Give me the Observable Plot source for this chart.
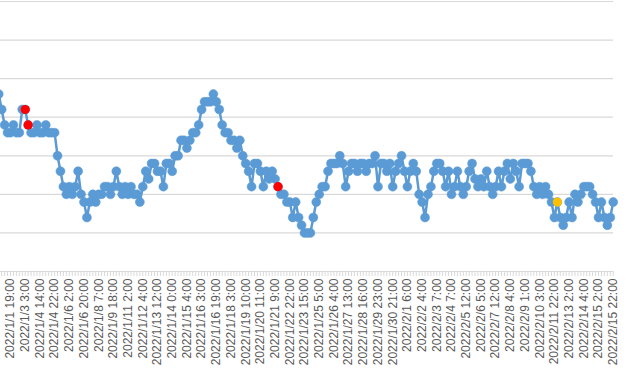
<!DOCTYPE html>
<html><head><meta charset="utf-8">
<script src="https://cdn.jsdelivr.net/npm/d3@7"></script>
<script src="https://cdn.jsdelivr.net/npm/@observablehq/plot@0.6"></script>
<style>body{margin:0;background:#fff}</style>
</head><body><div id="chart"></div>
<script>
const values = [
  4.6, 4.2, 3.8, 3.6, 3.6, 3.8, 3.6, 3.6, 4.2, 4.2,
  3.8, 3.6, 3.6, 3.8, 3.6, 3.6, 3.8, 3.6, 3.6, 3.6,
  3.0, 2.6, 2.2, 2.0, 2.2, 2.0, 2.2, 2.6, 2.0, 1.8,
  1.4, 1.8, 2.0, 1.8, 2.0, 2.0, 2.2, 2.2, 2.0, 2.2,
  2.6, 2.2, 2.0, 2.2, 2.0, 2.2, 2.0, 2.0, 1.8, 2.2,
  2.6, 2.4, 2.8, 2.8, 2.6, 2.6, 2.2, 2.8, 2.8, 2.6,
  3.0, 3.0, 3.4, 3.4, 3.2, 3.4, 3.6, 3.6, 3.8, 4.2,
  4.4, 4.4, 4.4, 4.6, 4.4, 4.2, 3.8, 3.6, 3.6, 3.4,
  3.4, 3.2, 3.4, 3.0, 2.8, 2.6, 2.2, 2.8, 2.8, 2.6,
  2.2, 2.6, 2.4, 2.6, 2.4, 2.2, 2.0, 2.0, 1.8, 1.8,
  1.4, 1.8, 1.4, 1.2, 1.0, 1.0, 1.0, 1.4, 1.8, 2.0,
  2.2, 2.2, 2.6, 2.8, 2.8, 2.8, 3.0, 2.8, 2.2, 2.6,
  2.8, 2.8, 2.6, 2.8, 2.8, 2.6, 2.8, 2.8, 3.0, 2.2,
  2.8, 2.8, 2.6, 2.8, 2.2, 2.6, 2.8, 3.0, 2.6, 2.2,
  2.6, 2.8, 2.6, 2.0, 1.8, 1.4, 2.0, 2.2, 2.6, 2.8,
  2.8, 2.6, 2.2, 2.6, 2.0, 2.2, 2.6, 2.2, 2.0, 2.2,
  2.6, 2.8, 2.4, 2.2, 2.4, 2.2, 2.6, 2.2, 2.0, 2.2,
  2.6, 2.2, 2.6, 2.8, 2.4, 2.8, 2.6, 2.2, 2.8, 2.8,
  2.8, 2.6, 2.2, 2.0, 2.2, 2.0, 2.2, 2.0, 1.8, 1.4,
  1.8, 1.4, 1.2, 1.4, 1.8, 1.4, 2.0, 1.8, 2.0, 2.2,
  2.2, 2.2, 2.0, 1.8, 1.4, 1.8, 1.4, 1.2, 1.4, 1.8
];
const tickLabels = [
  "2022/1/1 19:00", "2022/1/3 3:00", "2022/1/4 14:00", "2022/1/4 22:00", "2022/1/6 2:00",
  "2022/1/6 20:00", "2022/1/8 7:00", "2022/1/9 18:00", "2022/1/11 2:00", "2022/1/12 4:00",
  "2022/1/13 12:00", "2022/1/14 0:00", "2022/1/15 4:00", "2022/1/16 3:00", "2022/1/16 19:00",
  "2022/1/18 3:00", "2022/1/19 10:00", "2022/1/20 11:00", "2022/1/21 9:00", "2022/1/22 22:00",
  "2022/1/23 15:00", "2022/1/25 5:00", "2022/1/26 4:00", "2022/1/27 13:00", "2022/1/28 16:00",
  "2022/1/29 23:00", "2022/1/30 21:00", "2022/2/1 6:00", "2022/2/2 4:00", "2022/2/3 7:00",
  "2022/2/4 7:00", "2022/2/5 12:00", "2022/2/6 5:00", "2022/2/7 12:00", "2022/2/8 4:00",
  "2022/2/9 1:00", "2022/2/10 3:00", "2022/2/11 22:00", "2022/2/13 2:00", "2022/2/14 4:00",
  "2022/2/15 2:00", "2022/2/15 22:00"
];
const labelEvery = 5;
const firstLabelIndex = 4;
const redPoints = [9, 10, 95];
const yellowPoints = [190];
const gridValues = [0, 1, 2, 3, 4, 5, 6, 7];

const data = values.map((v, i) => ({i, v}));
const labelIdx = tickLabels.map((_, j) => firstLabelIndex + j * labelEvery);
const labelMap = new Map(labelIdx.map((k, j) => [k, tickLabels[j]]));
const font = "'Liberation Sans', Arial, sans-serif";

const chart = Plot.plot({
  width: 630, height: 389,
  marginLeft: 0, marginRight: 17, marginTop: 1, marginBottom: 118,
  style: {fontFamily: font, fontSize: "12px", background: "#fff"},
  x: {type: "linear", domain: [0.6, 209.1], label: null},
  y: {domain: [0, 7], axis: null, label: null},
  marks: [
    Plot.ruleY(gridValues, {stroke: "#d9d9d9", strokeWidth: 1.2}),
    Plot.axisX({ticks: data.map(d => d.i), tickSize: 5, tickFormat: () => "", stroke: "#d9d9d9", label: null}),
    Plot.axisX({ticks: labelIdx, tickSize: 0, tickPadding: 7, tickRotate: -90, label: null,
      tickFormat: i => labelMap.get(i), fill: "#595959", fontSize: 12, fontFamily: font}),
    Plot.line(data, {x: "i", y: "v", stroke: "#5b9bd5", strokeWidth: 2.5}),
    Plot.dot(data, {x: "i", y: "v", r: 4.5, fill: "#5b9bd5", stroke: "#5b9bd5", strokeWidth: 0.5}),
    Plot.dot(redPoints.map(i => data[i]), {x: "i", y: "v", r: 4.6, fill: "#ff0000"}),
    Plot.dot(yellowPoints.map(i => data[i]), {x: "i", y: "v", r: 4.6, fill: "#ffc000"})
  ]
});
document.getElementById("chart").appendChild(chart);
</script>
</body></html>
